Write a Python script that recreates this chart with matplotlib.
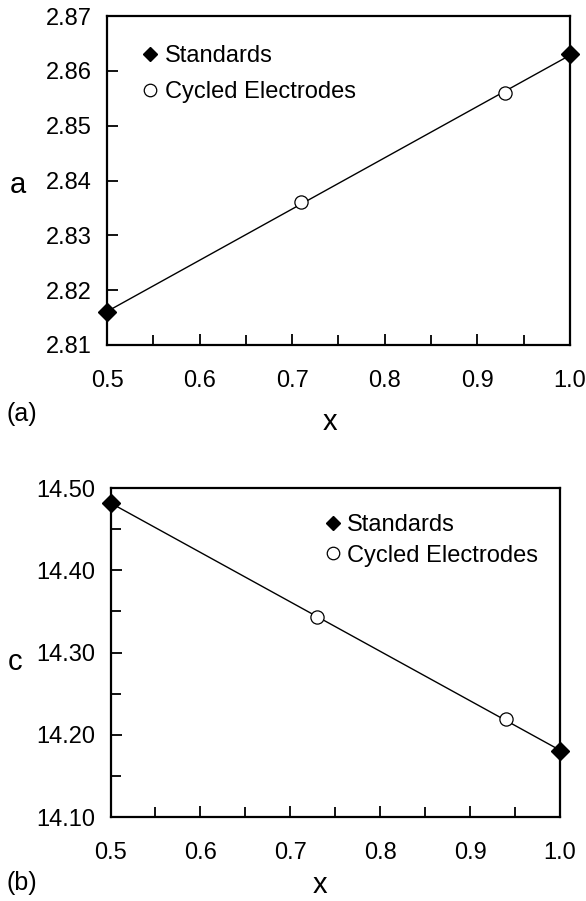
import numpy as np
import matplotlib.pyplot as plt

plt.rcParams['font.family'] = ['Liberation Sans', 'DejaVu Sans']

# panel (a): lattice parameter a
xa_std = [0.5, 1.0]
a_std = [2.816, 2.863]
xa_cyc = [0.71, 0.93]
a_cyc = [2.836, 2.856]

# panel (b): lattice parameter c
xc_std = [0.5, 1.0]
c_std = [14.482, 14.180]
xc_cyc = [0.73, 0.94]
c_cyc = [14.343, 14.219]

xticks = [0.5, 0.6, 0.7, 0.8, 0.9, 1.0]
xlabels = ['0.5', '0.6', '0.7', '0.8', '0.9', '1.0']
a_ticks = [2.81, 2.82, 2.83, 2.84, 2.85, 2.86, 2.87]
c_ticks = [14.10, 14.20, 14.30, 14.40, 14.50]

fig = plt.figure(figsize=(5.86, 9.01), dpi=100)
ax1 = fig.add_axes([0.1826, 0.6171, 0.790, 0.3651])
ax2 = fig.add_axes([0.1886, 0.0932, 0.767, 0.3651])


def draw(ax, xs, ys, xc, yc, yticks, minor_y, leg_anchor, spacing):
    allx = np.array(xs + xc)
    ally = np.array(ys + yc)
    k, b = np.polyfit(allx, ally, 1)
    xl = np.array([0.5, 1.0])
    ax.plot(xl, k * xl + b, color='black', lw=1.0, zorder=2)
    ax.plot(xs, ys, 'D', color='black', ms=9.5, clip_on=False, zorder=4,
            label='Standards')
    ax.plot(xc, yc, 'o', mfc='white', mec='black', mew=0.9, ms=9.5,
            clip_on=False, zorder=3, label='Cycled Electrodes')
    ax.set_xlim(0.5, 1.0)
    ax.set_ylim(yticks[0], yticks[-1])
    ax.set_xticks(xticks)
    ax.set_xticklabels(xlabels)
    ax.set_xticks(np.arange(0.55, 1.0, 0.1), minor=True)
    ax.set_yticks(yticks)
    ax.set_yticklabels(['%.2f' % v for v in yticks])
    if minor_y:
        ax.set_yticks(np.arange(yticks[0] + 0.05, yticks[-1], 0.1), minor=True)
    ax.tick_params(which='both', direction='in', width=1.3, labelsize=17)
    ax.tick_params(axis='x', which='major', length=8, pad=18)
    ax.tick_params(axis='x', which='minor', length=7)
    ax.tick_params(axis='y', which='major', length=8, pad=11)
    ax.tick_params(axis='y', which='minor', length=7)
    for s in ax.spines.values():
        s.set_linewidth(1.6)
    leg = ax.legend(loc='upper left', bbox_to_anchor=leg_anchor, frameon=False,
                    fontsize=17, handletextpad=0.12, handlelength=1.0,
                    labelspacing=spacing, borderaxespad=0, borderpad=0)
    leg.legend_handles[0].set_markersize(7)
    leg.legend_handles[1].set_markersize(9)


draw(ax1, xa_std, a_std, xa_cyc, a_cyc, a_ticks, False, (0.068, 0.912), 0.6)
draw(ax2, xc_std, c_std, xc_cyc, c_cyc, c_ticks, True, (0.468, 0.920), 0.35)

fig.text(0.031, 0.795, 'a', fontsize=21, va='center', ha='center')
fig.text(0.0375, 0.5405, '(a)', fontsize=18, va='center', ha='center')
fig.text(0.563, 0.532, 'x', fontsize=21, va='center', ha='center')

fig.text(0.026, 0.265, 'c', fontsize=21, va='center', ha='center')
fig.text(0.0375, 0.020, '(b)', fontsize=18, va='center', ha='center')
fig.text(0.546, 0.018, 'x', fontsize=21, va='center', ha='center')

fig.savefig('out.png', dpi=100)
